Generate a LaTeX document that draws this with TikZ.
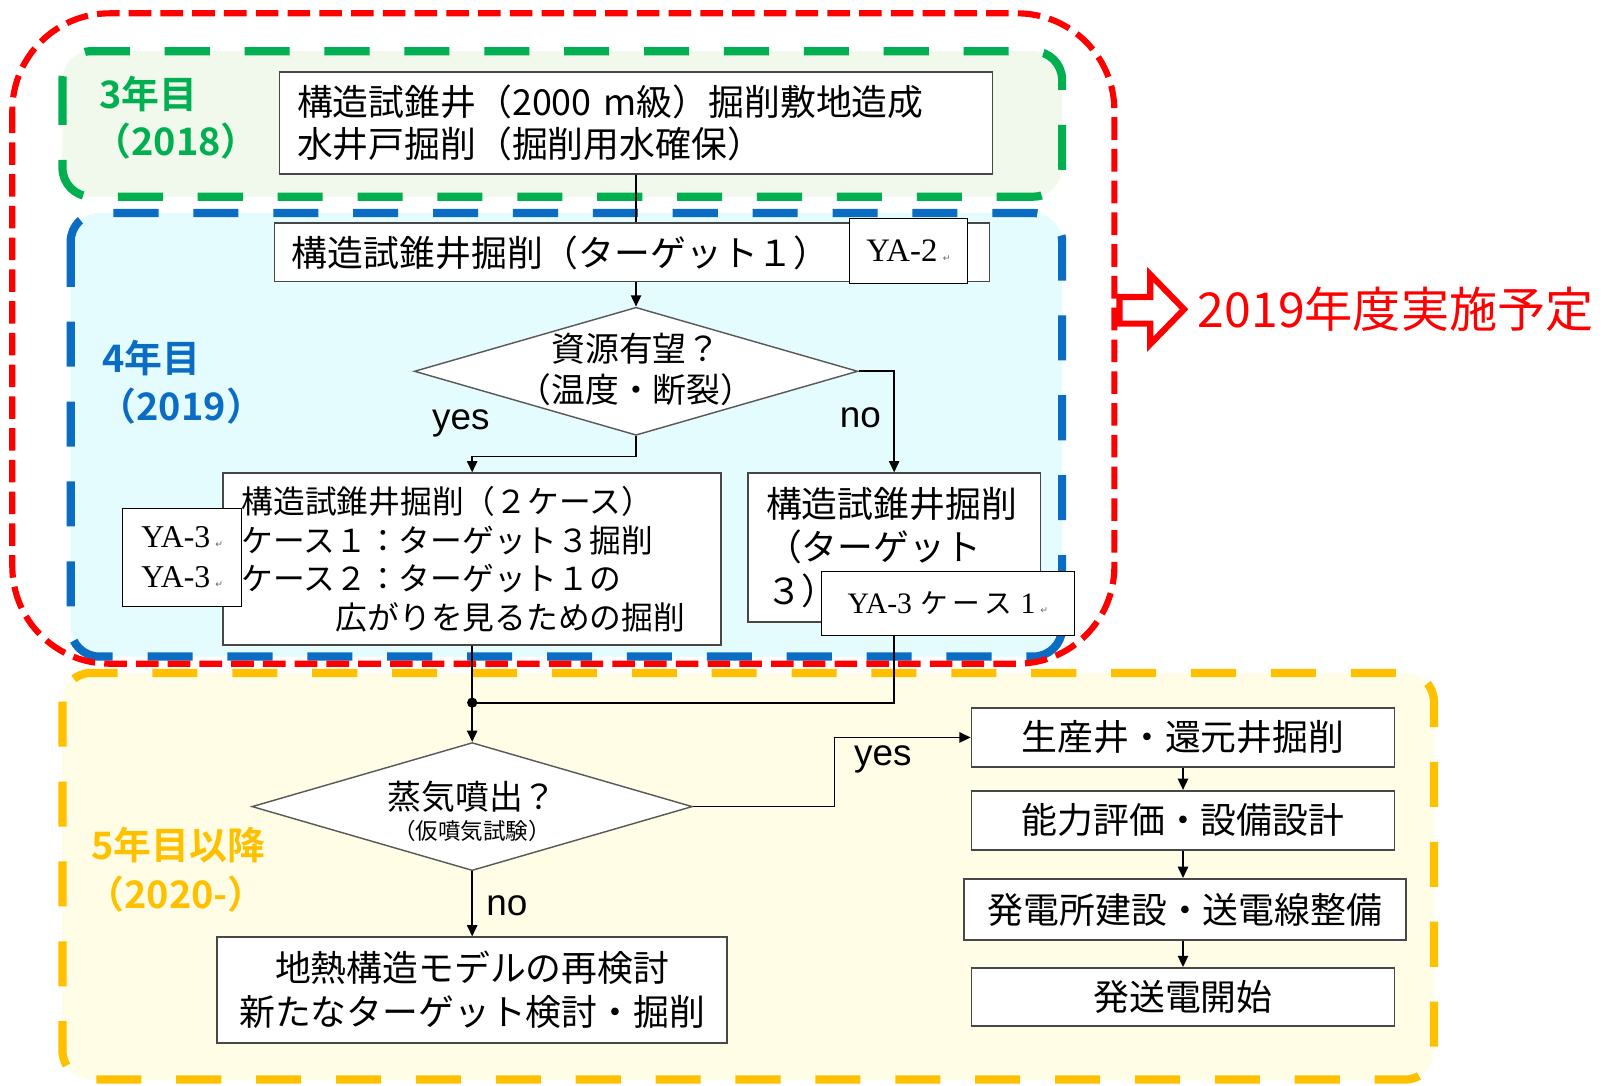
\documentclass[tikz,border=0pt]{standalone}
\usepackage{fontspec}
\setmainfont{Liberation Sans}
\newfontfamily\jp{Noto Sans CJK JP}[BoldFont={Noto Sans CJK JP Bold}]
\newfontfamily\ser{Liberation Serif}
\newfontfamily\sym{DejaVu Sans}
\usetikzlibrary{shapes.geometric,arrows.meta}
\definecolor{rd}{HTML}{FF0000}
\definecolor{grn}{HTML}{00B050}
\definecolor{blu}{HTML}{0B6CC4}
\definecolor{ylw}{HTML}{FFC000}
\definecolor{grfill}{HTML}{F1F8EC}
\definecolor{blfill}{HTML}{E4FCFE}
\definecolor{ylfill}{HTML}{FFFDE6}
\newcommand{\ret}{\,{\sym\fontsize{9}{9}\selectfont\color{black!60}↵}}
\tikzset{
  box/.style={draw=black!72, line width=1.6pt, fill=white, inner sep=0pt},
  yabox/.style={draw=black, line width=1pt, fill=white, inner sep=0pt, align=center},
  dia/.style={diamond, draw=black!65, line width=1.4pt, fill=white, inner sep=0pt},
  conn/.style={line width=1.7pt, draw=black},
  arr/.style={conn, -{Triangle[length=11pt,width=10pt]}},
  yn/.style={font=\fontsize{36}{40}\selectfont},
  zone/.style={line width=8pt, rounded corners=28pt, dash pattern=on 44pt off 34pt},
  zlabel/.style={font=\jp\bfseries\fontsize{37}{42}\selectfont},
}
\begin{document}
\begin{tikzpicture}[x=1pt,y=-1pt]
\useasboundingbox (0,0) rectangle (1568,1060);
\fill[white] (0,0) rectangle (1568,1060);
% zone fills
\fill[grfill, rounded corners=28pt] (61,50) rectangle (1037,192);
\fill[blfill, rounded corners=28pt] (69,208) rectangle (1037,641);
\fill[ylfill, rounded corners=28pt] (61,657) rectangle (1400,1054);
% zone borders
\draw[zone, grn] (61,50) rectangle (1037,192);
\draw[zone, blu] (69,208) rectangle (1037,641);
\draw[zone, ylw] (61,657) rectangle (1400,1054);
% red region
\draw[rd, line width=6pt, rounded corners=95pt, dash pattern=on 22pt off 9pt] (12,13) rectangle (1088,648);
% zone labels
\node[zlabel, text=grn] (l3a) at (145,92) {3年目};
\node[zlabel, text=grn] (l3b) at (172,138) {（2018）};
\node[zlabel, text=blu] (l4a) at (148,350) {4年目};
\node[zlabel, text=blu] (l4b) at (177,396) {（2019）};
\node[zlabel, text=ylw] (l5a) at (174,825) {5年目以降};
\node[zlabel, text=ylw] (l5b) at (172,873) {（2020-）};
% nodes
\node[box, minimum width=696pt, minimum height=100pt, text width=662pt, align=left,
      font=\jp\fontsize{35}{41}\selectfont] (b1) at (621,120)
      {構造試錐井（2000 m級）掘削敷地造成\\水井戸掘削（掘削用水確保）};
\node[box, minimum width=698pt, minimum height=57pt, text width=664pt, align=left,
      font=\jp\fontsize{35}{41}\selectfont] (b2) at (617,246.5)
      {構造試錐井掘削（ターゲット１）};
\node[yabox, minimum width=116pt, minimum height=64pt, font=\ser\fontsize{32}{38}\selectfont] (ya2) at (887,245) {YA-2\ret};
\node[dia, minimum width=433pt, minimum height=125pt] (d1) at (621,362.5) {};
\node[font=\jp\fontsize{33}{40}\selectfont, align=center] (d1t) at (621,361) {資源有望？\\（温度・断裂）};
\node[box, minimum width=486pt, minimum height=168pt, text width=450pt, align=left,
      font=\jp\fontsize{31}{37.7}\selectfont] (b3) at (461,546)
      {構造試錐井掘削（２ケース）\\ケース１：ターゲット３掘削\\ケース２：ターゲット１の\\\hspace*{92pt}広がりを見るための掘削};
\node[yabox, minimum width=116pt, minimum height=96pt, font=\ser\fontsize{31}{39}\selectfont] (ya3) at (178,544) {YA-3\ret\\YA-3\ret};
\node[box, minimum width=286pt, minimum height=145pt, text width=250pt, align=left,
      font=\jp\fontsize{35}{42.5}\selectfont] (b4) at (873,534.5)
      {構造試錐井掘削\\（ターゲット\\３）};
\node[dia, minimum width=430pt, minimum height=125pt] (d2) at (461,787.5) {};
\node[align=center] (d2t) at (461,792) {{\jp\fontsize{33}{38}\selectfont 蒸気噴出？}\\[6pt]{\jp\fontsize{22}{28}\selectfont （仮噴気試験）}};
\node[box, minimum width=498pt, minimum height=103pt, align=center,
      font=\jp\fontsize{35}{43}\selectfont] (b6) at (461,966.5)
      {地熱構造モデルの再検討\\新たなターゲット検討・掘削};
\node[box, minimum width=413pt, minimum height=58pt, font=\jp\fontsize{35}{41}\selectfont] (b5) at (1155,720) {生産井・還元井掘削};
\node[box, minimum width=413pt, minimum height=58pt, font=\jp\fontsize{35}{41}\selectfont] (b7) at (1155,801) {能力評価・設備設計};
\node[box, minimum width=432pt, minimum height=60pt, font=\jp\fontsize{35}{41}\selectfont] (b8) at (1157,888) {発電所建設・送電線整備};
\node[box, minimum width=413pt, minimum height=57pt, font=\jp\fontsize{35}{41}\selectfont] (b9) at (1155,973.5) {発送電開始};
% connectors
\coordinate (j) at (461,686);
\draw[conn] (b1.south) -- (b1.south |- b2.north);
\draw[arr] (d1.north |- b2.south) -- (d1.north);
\draw[arr] (d1.south) -- ++(0,20) -| (b3.north);
\draw[arr] (d1.east) -| (b4.north);
\draw[conn] (b3.south) -- (j);
\draw[conn] (b4.south) -- (b4.south |- j) -- (j);
\fill (j) circle (5pt);
\draw[arr] (j) -- (d2.north);
\draw[arr] (d2.east) -- ++(138,0) |- (b5.west);
\draw[arr] (d2.south) -- (b6.north);
\draw[arr] (b5.south) -- (b7.north);
\draw[arr] (b7.south) -- (b8.north -| b7.south);
\draw[arr] (b8.south -| b9.north) -- (b9.north);
% overlay label box
\node[yabox, minimum width=247pt, minimum height=62pt, font=\ser\fontsize{29}{34}\selectfont] (ya3c) at (925.5,589) {YA-3\hspace{8pt}{\jp\fontsize{27}{32}\selectfont ケ\,ー\,ス}\hspace{8pt}1\ret};
% yes/no labels
\node[yn] (y1) at (450,413) {yes};
\node[yn] (n1) at (840,408) {no};
\node[yn] (y2) at (862,741) {yes};
\node[yn] (n2) at (495,884) {no};
% red arrow and note
\draw[rd, line width=6pt, fill=white, line join=miter] (1093,290) -- (1123,290) -- (1123,268) -- (1156,302) -- (1123,336) -- (1123,316) -- (1093,316) -- cycle;
\node[text=rd, font=\jp\fontsize{47}{52}\selectfont, anchor=west] (note) at (1166,302) {2019年度実施予定};
\end{tikzpicture}
\end{document}
